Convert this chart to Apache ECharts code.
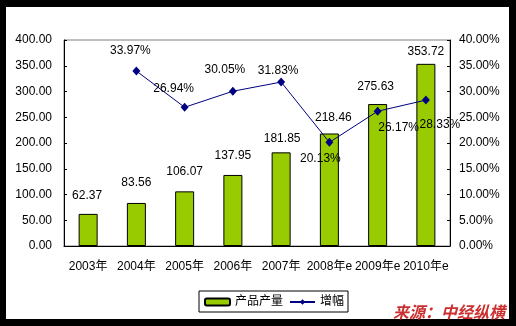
<!DOCTYPE html>
<html>
<head>
<meta charset="utf-8">
<style>
  html, body { margin: 0; padding: 0; background: #000; }
  #chart { width: 516px; height: 326px; }
</style>
<script src="https://cdn.jsdelivr.net/npm/echarts@6/dist/echarts.min.js"></script>
</head>
<body>
<div id="chart"></div>
<script>
// Categories and values
var years = ['2003年', '2004年', '2005年', '2006年', '2007年', '2008年e', '2009年e', '2010年e'];
var output = [62.37, 83.56, 106.07, 137.95, 181.85, 218.46, 275.63, 353.72];
var growth = [null, 33.97, 26.94, 30.05, 31.83, 20.13, 26.17, 28.33]; // percent
var seriesNames = ['产品产量', '增幅'];
var sourceNote = '来源：中经纵横';

// Label placement tweaks (pixels)
var barLabelLift = [18, 20, 20, 19.5, 14, 16, 17, 12];
var barLabelShift = [-1, 0, 0, 0, 1, 4, -2, 0];
var lineLabelOffset = [null, [-6, -20], [-11, -19], [-8, -22], [-3, -11], [-9, 16], [21, 16], [14, 25]];

var FONT = '"Liberation Sans", Arial, "Noto Sans CJK SC", sans-serif';

var barData = output.map(function (v, i) {
  return {
    value: v,
    label: { distance: barLabelLift[i], offset: [barLabelShift[i], 0] }
  };
});

var lineData = growth.map(function (v, i) {
  if (v === null) return null;
  return {
    value: v,
    label: { offset: lineLabelOffset[i] }
  };
});

var chart = echarts.init(document.getElementById('chart'), null, { renderer: 'canvas' });

chart.setOption({
  backgroundColor: '#000',
  animation: false,
  textStyle: { fontFamily: FONT },
  graphic: [
    {
      type: 'rect', z: -100, silent: true,
      shape: { x: 6, y: 7, width: 503, height: 312 },
      style: { fill: '#fff' }
    },
    {
      type: 'text', z: 100, left: 393, top: 304,
      style: {
        text: sourceNote,
        fill: '#CC2F2F',
        font: 'italic bold 16px "Noto Sans CJK SC", sans-serif'
      }
    }
  ],
  grid: {
    left: 64, top: 40, width: 386, height: 206,
    show: true, backgroundColor: '#fff', borderColor: '#808080', borderWidth: 1
  },
  legend: {
    left: 199, top: 291,
    padding: [5, 4, 4, 5],
    itemGap: 6, itemWidth: 25, itemHeight: 7,
    borderColor: '#000', borderWidth: 1, borderRadius: 0,
    backgroundColor: '#fff',
    textStyle: { fontSize: 12, color: '#000', fontFamily: FONT },
    data: seriesNames
  },
  xAxis: {
    type: 'category',
    data: years,
    boundaryGap: true,
    axisLine: { lineStyle: { color: '#000', width: 1 } },
    axisTick: { inside: true, length: 4, lineStyle: { color: '#000' } },
    axisLabel: { interval: 0, margin: 15, fontSize: 12, color: '#000', fontFamily: FONT },
    splitLine: { show: false }
  },
  yAxis: [
    {
      type: 'value', min: 0, max: 400, interval: 50, position: 'left',
      axisLine: { show: true, lineStyle: { color: '#000', width: 1 } },
      axisTick: { show: true, inside: true, length: 3, lineStyle: { color: '#000' } },
      axisLabel: {
        margin: 12, fontSize: 12, color: '#000', fontFamily: FONT,
        formatter: function (v) { return v.toFixed(2); }
      },
      splitLine: { show: false }
    },
    {
      type: 'value', min: 0, max: 40, interval: 5, position: 'right',
      axisLine: { show: true, lineStyle: { color: '#000', width: 1 } },
      axisTick: { show: true, inside: true, length: 3, lineStyle: { color: '#000' } },
      axisLabel: {
        margin: 9, fontSize: 12, color: '#000', fontFamily: FONT,
        formatter: function (v) { return v.toFixed(2) + '%'; }
      },
      splitLine: { show: false }
    }
  ],
  series: [
    {
      name: seriesNames[0],
      type: 'bar',
      yAxisIndex: 0,
      barWidth: 19,
      data: barData,
      itemStyle: { color: '#99CC00', borderColor: '#000', borderWidth: 1 },
      label: {
        show: true, position: 'top', verticalAlign: 'middle', align: 'center',
        fontSize: 12, color: '#000', fontFamily: FONT,
        formatter: function (p) { return p.value.toFixed(2); }
      },
      z: 2
    },
    {
      name: seriesNames[1],
      type: 'line',
      yAxisIndex: 1,
      data: lineData,
      connectNulls: false,
      symbol: 'diamond',
      symbolSize: [8, 9],
      lineStyle: { color: '#000080', width: 1 },
      itemStyle: { color: '#000080' },
      label: {
        show: true, position: 'inside', align: 'center', verticalAlign: 'middle',
        fontSize: 12, color: '#000', textBorderWidth: 0, fontFamily: FONT,
        formatter: function (p) { return p.value.toFixed(2) + '%'; }
      },
      z: 3
    }
  ]
});
</script>
</body>
</html>
